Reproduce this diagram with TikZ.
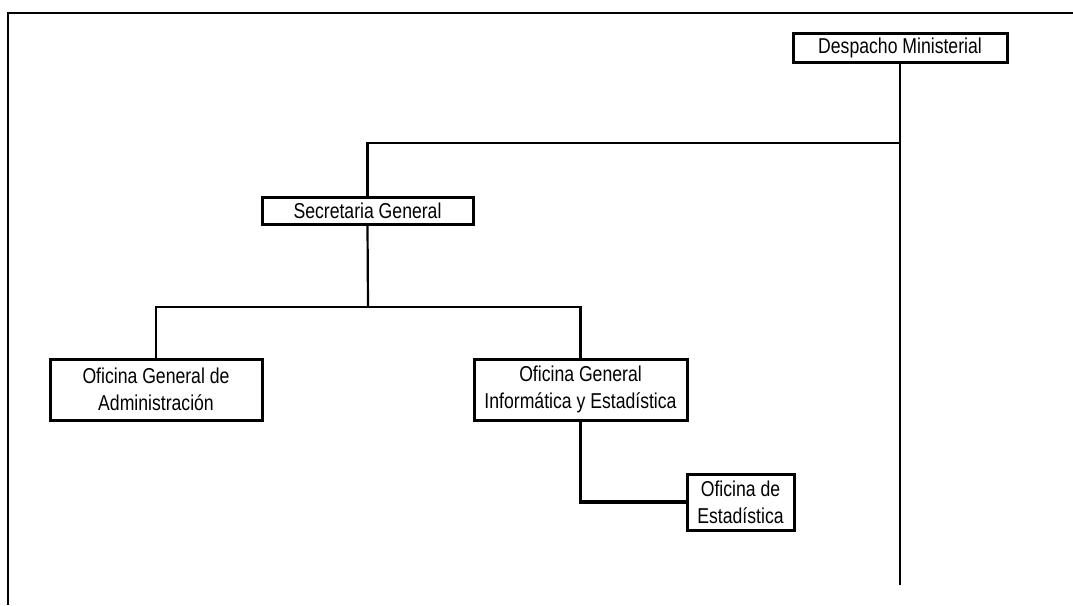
\documentclass[tikz,border=0pt]{standalone}
\usepackage{fontspec}
\setmainfont[FakeStretch=0.82]{Liberation Sans}
\usetikzlibrary{positioning,shadows}

\begin{document}
\begin{tikzpicture}[
  x=1pt, y=-1pt,
  font=\fontsize{21.5}{27}\selectfont,
  unit/.style={draw=black, line width=3pt, fill=white, inner sep=0pt,
               align=center, drop shadow={shadow xshift=2pt,
               shadow yshift=-2pt, opacity=1, fill=black}},
  link/.style={line width=2.2pt},
]
\useasboundingbox (0,0) rectangle (1073,605);
% ---- frame ----
\draw[line width=2.2pt] (1073,13) -- (8,13) -- (8,605);

% ---- units ----
\node[unit, minimum width=214pt, minimum height=29pt] (desp) at (900,47.5)
  {Despacho Ministerial};
\node[unit, minimum width=211pt, minimum height=27pt] (secg) at (367.5,210.5)
  {Secretaria General};
\node[unit, minimum width=212pt, minimum height=61pt] (oga) at (156,389.5)
  {Oficina General de\\ Administración};
\node[unit, minimum width=213pt, minimum height=61pt] (ogie) at (580.5,389.5)
  {Oficina General\\ Informática y Estadística};
\node[unit, minimum width=107pt, minimum height=56pt] (oest) at (740.5,502)
  {Oficina de\\ Estadística};

% ---- junctions ----
\coordinate (j1) at (900,143);
\coordinate (fin) at (900,585);
\coordinate (j2) at (368,307);

% ---- connectors ----
\draw[link, line width=2.6pt] (desp.south) -- (fin);
\draw[link] (j1) -| (secg.north);
\draw[link] (secg.south) -- (j2);
\draw[link] (oga.north) |- (j2) -| (ogie.north);
\draw[link, line width=3.2pt] (ogie.south) |- (oest.west);
\end{tikzpicture}
\end{document}
